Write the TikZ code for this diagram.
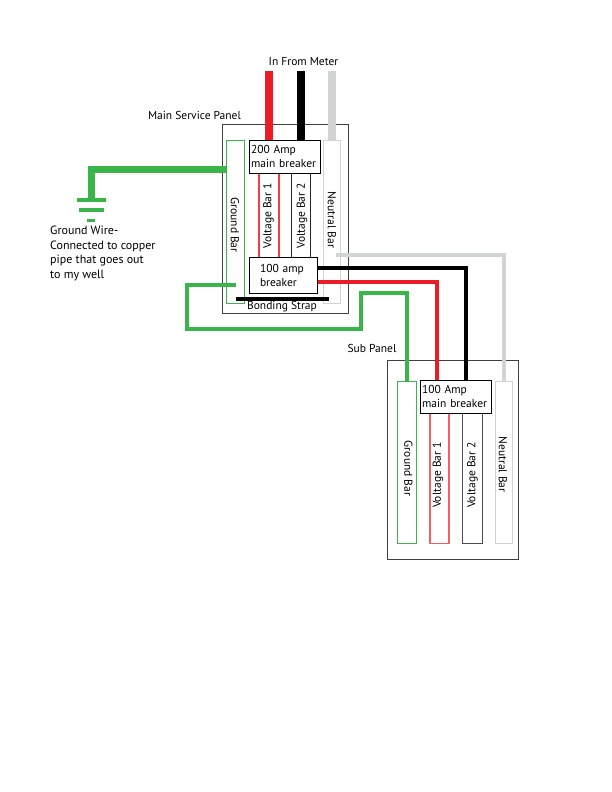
\documentclass[tikz,border=0pt]{standalone}
\usepackage{fontspec}
\setmainfont{PT Sans}
\definecolor{gwire}{RGB}{57,181,74}
\definecolor{rwire}{RGB}{237,28,36}
\definecolor{nwire}{RGB}{209,211,212}
\tikzset{
 panel/.style={draw=black!75,line width=1pt,fill=none,inner sep=0pt},
 bar/.style={draw=#1,line width=1pt,fill=white,inner sep=0pt},
 redbar/.style={fill=#1,draw=none,inner sep=0pt},
 barinner/.style={fill=white,draw=none,inner sep=0pt},
 breaker/.style={draw=black,line width=1pt,fill=white,inner sep=0pt,align=left,font=\fontsize{11.5}{14}\selectfont},
 lab/.style={inner sep=0pt,align=left,font=\fontsize{11.5}{14}\selectfont},
 wire/.style={draw=#1,line width=4pt},
 thick wire/.style={draw=#1,line width=7.5pt},
}
\begin{document}
\begin{tikzpicture}[x=1pt,y=-1pt]
\useasboundingbox (0,0) rectangle (612,792);
% panels
\node[panel,minimum width=126pt,minimum height=189pt] (main) at (285.5,218.5) {};
\node[panel,minimum width=131pt,minimum height=199pt] (sub) at (453,459.5) {};
% main bars
\node[bar=gwire,minimum width=18pt,minimum height=163pt] (mg) at (235.5,221.5) {};
\node[redbar=rwire!85,minimum width=21.5pt,minimum height=100pt] (mv1) at (268.75,215) {};
\node[barinner,minimum width=18pt,minimum height=100pt] (mv1i) at (269,215) {};
\node[bar=black!85,minimum width=19pt,minimum height=100pt] (mv2) at (301,215) {};
\node[bar=nwire,minimum width=17pt,minimum height=163pt] (mn) at (332,221.5) {};
% sub bars
\node[bar=gwire,minimum width=19pt,minimum height=162pt] (sg) at (407,462) {};
\node[redbar=rwire!70,minimum width=21.25pt,minimum height=142pt] (sv1) at (439.375,473) {};
\node[barinner,minimum width=17.5pt,minimum height=139pt] (sv1i) at (439.25,473) {};
\node[bar=black!70,minimum width=20pt,minimum height=140pt] (sv2) at (472,473) {};
\node[bar=nwire,minimum width=17pt,minimum height=162pt] (sn) at (503.5,462) {};
% breakers
\node[breaker,minimum width=71pt,minimum height=33pt,text width=67pt,inner xsep=2pt] (b200) at (284.5,156.5) {200 Amp\\main breaker};
\node[breaker,minimum width=68pt,minimum height=35.5pt,text width=46pt] (b100) at (283,275.25) {100 amp\\breaker};
\node[breaker,minimum width=71pt,minimum height=32.5pt,text width=67pt,inner xsep=2pt] (bs) at (455.5,396.75) {100 Amp\\main breaker};
% free ends and bends
\coordinate (mr) at (269,71);
\coordinate (mb) at (301,71);
\coordinate (mw) at (332,71);
\coordinate (gs) at (91.5,200);
\coordinate (gl) at (236,285);
\coordinate (ns) at (336,254.5);
\coordinate (nb) at (504,254.5);
\coordinate (bs-k) at (466,268);
\coordinate (bs-r) at (437,281.5);
% feed wires
\draw[wire=rwire,line width=7.5pt] (mr) -- (mr |- b200.north);
\draw[wire=black,line width=7.5pt] (mb) -- (mb |- b200.north);
\draw[wire=nwire,line width=7.5pt] (mw) -- (mw |- mn.north);
% ground wire
\draw[thick wire=gwire,line join=miter] (mg.west |- 0,169.5) -| (gs);
\node[inner sep=0pt,minimum width=29pt,minimum height=3.5pt,fill=gwire] (g1) at (91.5,200) {};
\node[inner sep=0pt,minimum width=25pt,minimum height=3.5pt,fill=gwire] (g2) at (91.5,210) {};
\node[inner sep=0pt,minimum width=8pt,minimum height=3.5pt,fill=gwire] (g3) at (91,220.5) {};
% subfeed
\draw[wire=nwire] (ns) -- (nb) -- (nb |- sn.north);
\draw[wire=black] (b100.east |- bs-k) -- (bs-k) -- (bs-k |- bs.north);
\draw[wire=rwire] (b100.east |- bs-r) -- (bs-r) -- (bs-r |- bs.north);
\draw[wire=gwire,line join=miter] (gl) -- (187,285) -- (187,329) -- (361,329) -- (361,293) -- (406.5,293) -- (406.5,380.5);
% bonding strap
\node[inner sep=0pt,fill=black,minimum width=93pt,minimum height=4pt] (bond) at (282.5,299.3) {};
% labels
\node[lab] (t1) at (303.5,62) {In From Meter};
\node[lab] (t2) at (194.5,115) {Main Service Panel};
\node[lab] (t3) at (372,348) {Sub Panel};
\node[lab] (t4) at (282,306.5) {Bonding Strap};
\node[lab,font=\fontsize{12}{14.4}\selectfont,anchor=west] (t5) at (50,253.5) {Ground Wire-\\Connected to copper\\pipe that goes out\\to my well};
\node[lab,rotate=-90] (l1) at (235,225) {Ground Bar};
\node[lab,rotate=90] (l2) at (268.5,216) {Voltage Bar 1};
\node[lab,rotate=90] (l3) at (302,216) {Voltage Bar 2};
\node[lab,rotate=-90] (l4) at (332,220) {Neutral Bar};
\node[lab,rotate=-90] (l5) at (408.5,468.5) {Ground Bar};
\node[lab,rotate=90] (l6) at (438,475) {Voltage Bar 1};
\node[lab,rotate=90] (l7) at (472.5,475) {Voltage Bar 2};
\node[lab,rotate=-90] (l8) at (503,464.5) {Neutral Bar};
\end{tikzpicture}
\end{document}
